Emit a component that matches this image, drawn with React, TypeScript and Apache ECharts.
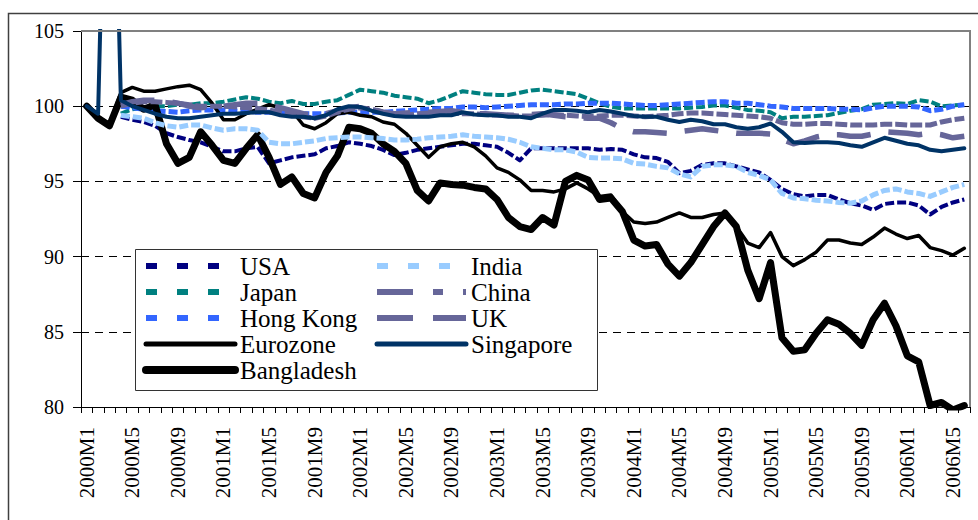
import React, { useEffect, useRef } from "react";
import * as echarts from "echarts";

// Category labels: monthly, 2000M1 .. 2006M6
const years = [2000, 2001, 2002, 2003, 2004, 2005, 2006];
const lastMonth2006 = 6;
const categories: string[] = [];
for (const y of years) {
  for (let m = 1; m <= 12; m++) {
    if (y === 2006 && m > lastMonth2006) break;
    categories.push(`${y}M${m}`);
  }
}

const yTicks = { min: 80, max: 105, interval: 5 };

const usa = [null, null, null, 99.3, 99.1, 98.95, 98.7, 98.2, 97.95, 97.75,
  97.6, 97.3, 97.0, 97.0, 97.2, 97.3, 96.2, 96.4, 96.6, 96.7,
  96.8, 97.2, 97.35, 97.6, 97.5, 97.35, 97.1, 96.75, 96.9, 97.1,
  97.2, 97.3, 97.4, 97.5, 97.5, 97.4, 97.3, 96.9, 96.4, 97.2,
  97.2, 97.2, 97.2, 97.2, 97.2, 97.1, 97.15, 97.1, 96.8, 96.6,
  96.55, 96.3, 95.55, 95.7, 96.1, 96.2, 96.2, 96.0, 95.8, 95.6,
  95.1, 94.5, 94.15, 94.0, 94.1, 94.1, 93.8, 93.55, 93.4, 93.1,
  93.5, 93.6, 93.6, 93.4, 92.8, 93.3, 93.6, 93.8];

const japan = [null, null, null, 99.5, 99.8, 99.9, 100.0, 100.0, 100.1, 100.1,
  100.2, 100.2, 100.3, 100.45, 100.6, 100.5, 100.3, 100.2, 100.35, 100.15,
  100.15, 100.3, 100.4, 100.75, 101.1, 101.0, 100.9, 100.7, 100.6, 100.5,
  100.2, 100.4, 100.7, 101.0, 100.9, 100.8, 100.75, 100.75, 100.9, 101.05,
  101.1, 101.0, 100.9, 100.8, 100.5, 100.2, 99.95, 99.85, 99.85, 99.85,
  99.85, 99.85, 99.85, 99.9, 99.95, 100.05, 100.05, 99.9, 99.75, 99.7,
  99.6, 99.2, 99.3, 99.3, 99.35, 99.4, 99.55, 99.7, 99.8, 100.1,
  100.15, 100.2, 100.15, 100.4, 100.3, 100.0, 100.05, 100.1];

const hongKong = [null, null, null, 100.0, 99.9, 99.8, 99.7, 99.65, 99.6, 99.7,
  99.75, 99.75, 99.75, 99.7, 99.65, 99.6, 99.6, 99.55, 99.5, 99.5,
  99.5, 99.5, 99.55, 99.6, 99.6, 99.6, 99.6, 99.65, 99.7, 99.75,
  99.8, 99.85, 99.85, 99.95, 99.95, 99.9, 99.95, 100.0, 100.05, 100.1,
  100.1, 100.1, 100.15, 100.15, 100.2, 100.2, 100.2, 100.15, 100.1, 100.05,
  100.05, 100.1, 100.15, 100.2, 100.25, 100.3, 100.3, 100.2, 100.2, 100.1,
  100.0, 99.95, 99.85, 99.85, 99.85, 99.85, 99.8, 99.8, 99.75, 99.9,
  100.0, 100.0, 100.0, 99.95, 99.7, 99.8, 100.0, 100.1];

const eurozone = [100, 99.3, 98.8, 100.9, 101.25, 101.0, 101.0, 101.15, 101.3, 101.4,
  101.1, 100.2, 99.1, 99.1, 99.5, 99.8, 100.1, 99.9, 99.7, 98.75,
  98.5, 98.9, 99.5, 99.6, 99.4, 99.3, 98.95, 98.8, 98.2, 97.4,
  96.6, 97.3, 97.5, 97.6, 97.3, 96.7, 95.9, 95.6, 95.1, 94.4,
  94.4, 94.3, 94.5, 94.9, 94.5, 94.0, 94.1, 93.0, 92.3, 92.2,
  92.3, 92.6, 92.9, 92.6, 92.6, 92.8, 92.9, 92.0, 90.9, 90.6,
  91.6, 90.0, 89.4, 89.8, 90.3, 91.1, 91.1, 90.9, 90.8, 91.3,
  91.9, 91.5, 91.2, 91.4, 90.6, 90.4, 90.1, 90.55];

const bangladesh = [100, 99.2, 98.7, 100.6, 100.4, 99.8, 100.1, 97.5, 96.2, 96.6,
  98.3, 97.4, 96.4, 96.2, 97.2, 98.1, 96.6, 94.8, 95.3, 94.2,
  93.9, 95.6, 96.7, 98.6, 98.5, 98.2, 97.5, 97.0, 96.2, 94.4,
  93.7, 94.9, 94.8, 94.75, 94.6, 94.5, 93.8, 92.6, 92.0, 91.8,
  92.6, 92.1, 95.0, 95.4, 95.1, 93.8, 93.9, 93.0, 91.1, 90.7,
  90.8, 89.5, 88.7, 89.6, 90.8, 92.0, 92.9, 92.0, 89.1, 87.2,
  89.6, 84.6, 83.7, 83.8, 84.9, 85.8, 85.5, 84.9, 84.1, 85.8,
  86.9, 85.4, 83.4, 83.0, 80.1, 80.3, 79.8, 80.1];

const india = [null, null, null, 99.4, 99.3, 99.2, 98.9, 98.7, 98.6, 98.75,
  98.75, 98.55, 98.4, 98.5, 98.5, 98.4, 97.6, 97.5, 97.5, 97.6,
  97.7, 97.85, 97.9, 97.95, 97.95, 97.9, 97.85, 97.75, 97.75, 97.8,
  97.9, 97.95, 98.0, 98.1, 98.0, 97.95, 97.9, 97.8, 97.6, 97.3,
  97.2, 97.1, 97.1, 96.95, 96.6, 96.55, 96.55, 96.5, 96.2, 96.15,
  96.0, 95.9, 95.5, 95.3, 96.0, 96.1, 96.1, 96.0, 95.6, 95.4,
  95.1, 94.2, 93.9, 93.85, 93.75, 93.7, 93.6, 93.55, 93.7, 94.1,
  94.4, 94.5, 94.3, 94.2, 94.0, 94.3, 94.6, 94.8];

const china = [null, null, null, 100.0, 100.2, 100.3, 100.3, 100.25, 100.2, 100.1,
  100.0, 100.0, 100.0, 99.95, 99.9, 99.85, 99.75, 99.6, 99.45, 99.3,
  99.2, 99.35, 99.6, 99.8, 99.9, 99.8, 99.6, 99.45, 99.4, 99.5,
  99.55, 99.6, 99.55, 99.5, 99.5, 99.45, 99.4, 99.4, 99.35, 99.35,
  99.4, 99.45, 99.4, 99.35, 99.3, 99.35, 99.4, 99.4, 99.35, 99.3,
  99.35, 99.4, 99.5, 99.55, 99.55, 99.5, 99.45, 99.4, 99.35, 99.3,
  99.2, 98.9, 98.8, 98.8, 98.85, 98.85, 98.8, 98.75, 98.75, 98.75,
  98.8, 98.8, 98.75, 98.75, 98.75, 98.95, 99.1, 99.2];

const uk = [null, null, null, 100.1, 100.3, 100.4, 100.4, 100.35, 100.2, 100.0,
  99.9, 99.95, 100.0, 100.1, 100.2, 100.2, 100.1, 99.9, 99.7, 99.5,
  99.4, 99.5, 99.7, 99.9, 100.0, 99.8, 99.6, 99.5, 99.55, 99.6,
  99.6, 99.65, 99.7, 99.6, 99.5, 99.5, 99.45, 99.4, 99.4, 99.45,
  99.5, 99.4, 99.3, 99.25, 99.2, 99.2, 98.9, 98.5, 98.3, 98.3,
  98.25, 98.2, 98.3, 98.4, 98.5, 98.4, 98.3, 98.2, 98.2, 98.2,
  98.15, 97.8, 97.5, 97.7, 97.95, 98.1, 98.1, 98.0, 98.0, 98.15,
  98.3, 98.25, 98.2, 98.1, 98.2, 98.1, 97.9, 98.0];

const singapore = [100, 99.5, 130, 100.4, 100.0, 99.75, 99.5, 99.3, 99.2, 99.2,
  99.3, 99.4, 99.5, 99.5, 99.55, 99.6, 99.6, 99.4, 99.3, 99.3,
  99.2, 99.4, 99.8, 100.0, 99.95, 99.7, 99.5, 99.35, 99.3, 99.3,
  99.3, 99.4, 99.4, 99.6, 99.45, 99.4, 99.4, 99.3, 99.3, 99.2,
  99.5, 99.75, 99.75, 99.7, 99.6, 99.75, 99.65, 99.5, 99.35, 99.3,
  99.3, 99.1, 98.95, 99.1, 99.0, 98.8, 98.8, 98.6, 98.5, 98.6,
  98.85, 98.3, 97.6, 97.55, 97.6, 97.6, 97.55, 97.4, 97.3, 97.6,
  97.9, 97.7, 97.5, 97.4, 97.1, 97.0, 97.1, 97.2];

const FONT = "Liberation Serif";

type Def = {
  name: string;
  data: (number | null)[];
  color: string;
  width: number;
  dash: number[] | "solid";
  legendDash: number[] | "solid";
  legendWidth: number;
  cap: "butt" | "round";
};

const defs: Def[] = [
  { name: "USA", data: usa, color: "#000080", width: 4, dash: [9, 3], legendDash: [11, 20], legendWidth: 6, cap: "butt" },
  { name: "Japan", data: japan, color: "#008080", width: 4, dash: [9, 3], legendDash: [11, 20], legendWidth: 6, cap: "butt" },
  { name: "Hong Kong", data: hongKong, color: "#3366FF", width: 5, dash: [9, 3], legendDash: [11, 20], legendWidth: 6, cap: "butt" },
  { name: "Eurozone", data: eurozone, color: "#000000", width: 3.5, dash: "solid", legendDash: "solid", legendWidth: 5, cap: "round" },
  { name: "Bangladesh", data: bangladesh, color: "#000000", width: 7, dash: "solid", legendDash: "solid", legendWidth: 8, cap: "round" },
  { name: "India", data: india, color: "#99CCFF", width: 5, dash: [9, 3], legendDash: [11, 20], legendWidth: 6, cap: "butt" },
  { name: "China", data: china, color: "#666699", width: 5, dash: [12, 3], legendDash: [36, 20, 10, 20], legendWidth: 6, cap: "butt" },
  { name: "UK", data: uk, color: "#666699", width: 5.5, dash: [34, 18], legendDash: [36, 20], legendWidth: 6, cap: "butt" },
  { name: "Singapore", data: singapore, color: "#003366", width: 4, dash: "solid", legendDash: "solid", legendWidth: 5, cap: "round" },
];

const legendCol1 = ["USA", "Japan", "Hong Kong", "Eurozone", "Bangladesh"];
const legendCol2 = ["India", "China", "UK", "Singapore"];

function legendItems(names: string[]) {
  return names.map((n) => {
    const d = defs.find((x) => x.name === n)!;
    return {
      name: n,
      itemStyle: { opacity: 0 },
      lineStyle: { color: d.color, width: d.legendWidth, type: d.legendDash, cap: d.cap, opacity: 1 },
    };
  });
}

export default function App() {
  const ref = useRef<HTMLDivElement>(null);
  useEffect(() => {
    if (!ref.current) return;
    const chart = echarts.init(ref.current, undefined, { renderer: "svg" });
    const legendCommon = {
      orient: "vertical" as const,
      top: 253,
      itemWidth: 89,
      itemHeight: 8,
      itemGap: 0,
      padding: 0,
      selectedMode: false,
      textStyle: { fontFamily: FONT, fontSize: 25, color: "#000", lineHeight: 26 },
      z: 6,
    };
    chart.setOption({
      animation: false,
      backgroundColor: "#fff",
      textStyle: { fontFamily: FONT },
      grid: { left: 81, right: 8, top: 31, bottom: 113, containLabel: false },
      legend: [
        { ...legendCommon, left: 142, data: legendItems(legendCol1) },
        { ...legendCommon, left: 374, data: legendItems(legendCol2) },
      ],
      xAxis: {
        type: "category",
        data: categories,
        boundaryGap: true,
        axisLine: { show: true, lineStyle: { color: "#000", width: 1 } },
        axisTick: { show: true, interval: 0, length: 6, lineStyle: { color: "#000" } },
        axisLabel: {
          interval: 3,
          rotate: 90,
          margin: 20,
          fontFamily: FONT,
          fontSize: 21,
          color: "#000",
        },
        splitLine: { show: false },
      },
      yAxis: {
        type: "value",
        min: yTicks.min,
        max: yTicks.max,
        interval: yTicks.interval,
        axisLine: { show: true, lineStyle: { color: "#000", width: 1 } },
        axisTick: { show: true, length: 8, lineStyle: { color: "#000" } },
        axisLabel: { margin: 17, fontFamily: FONT, fontSize: 20, color: "#000" },
        splitLine: { show: true, lineStyle: { color: "#000", width: 1, type: [8, 6] } },
      },
      graphic: [
        {
          type: "rect",
          z: 0,
          shape: { x: 8.5, y: 13.5, width: 1200, height: 800 },
          style: { fill: "none", stroke: "#404040", lineWidth: 1.5 },
          silent: true,
        },
        {
          type: "rect",
          z: 5,
          shape: { x: 135.5, y: 249.5, width: 462, height: 141 },
          style: { fill: "#fff", stroke: "#333", lineWidth: 1 },
          silent: true,
        },
        {
          type: "line",
          z: 10,
          shape: { x1: 81, y1: 31, x2: 971, y2: 31 },
          style: { stroke: "#808080", lineWidth: 2 },
          silent: true,
        },
        {
          type: "line",
          z: 10,
          shape: { x1: 970, y1: 31, x2: 970, y2: 407 },
          style: { stroke: "#808080", lineWidth: 2 },
          silent: true,
        },
      ],
      series: defs.map((d) => ({
        name: d.name,
        type: "line",
        data: d.data,
        symbol: "none",
        clip: true,
        connectNulls: false,
        lineStyle: { color: d.color, width: d.width, type: d.dash, cap: d.cap, join: "round" },
        itemStyle: { color: d.color },
        emphasis: { disabled: true },
      })),
    });
    return () => chart.dispose();
  }, []);
  return (
    <div
      ref={ref}
      style={{ position: "absolute", left: 0, top: 0, width: 978, height: 520 }}
    />
  );
}
